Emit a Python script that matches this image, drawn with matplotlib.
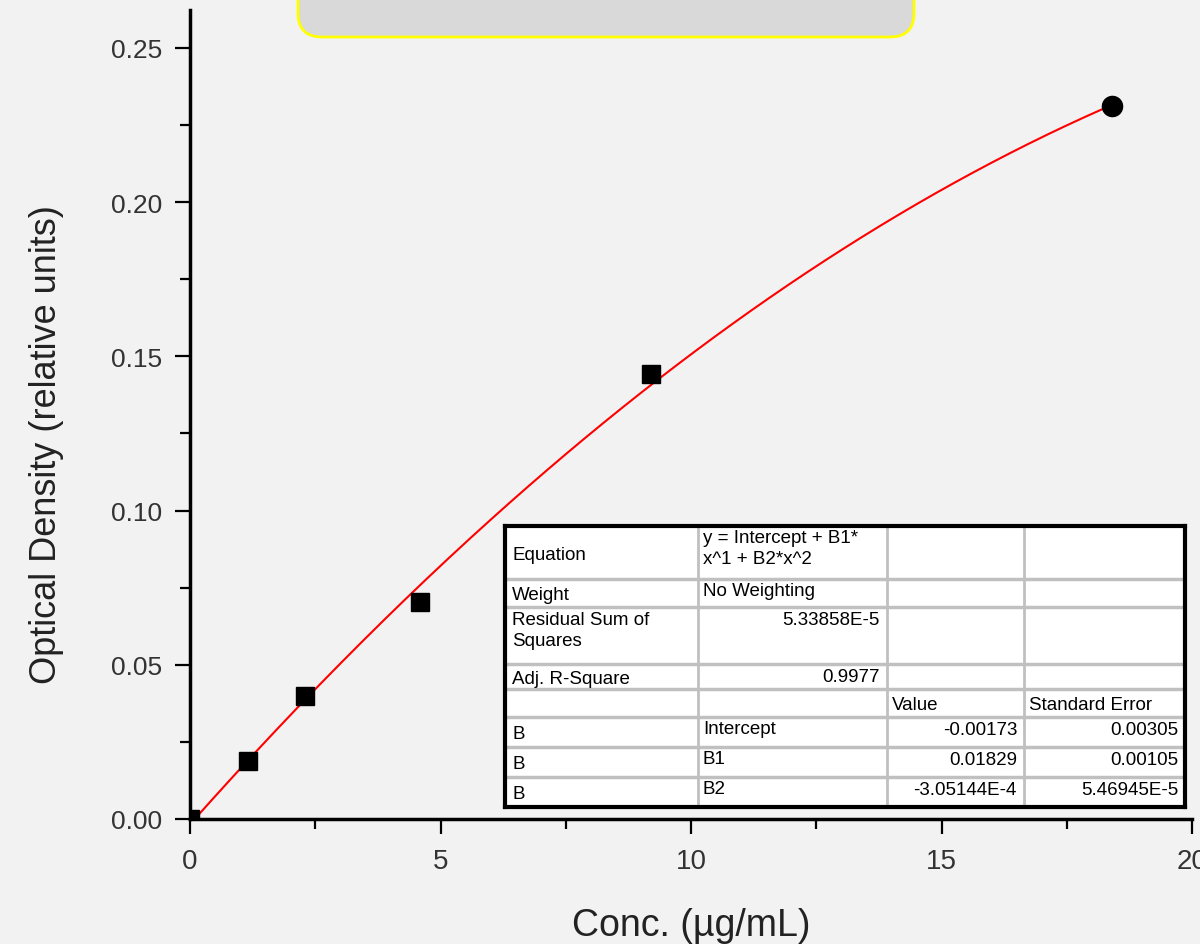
import numpy as np
import matplotlib.pyplot as plt
from matplotlib.patches import FancyBboxPatch
from matplotlib.transforms import IdentityTransform
from matplotlib.ticker import MultipleLocator

# ---------------------------------------------------------
# Data
# ---------------------------------------------------------
conc = [0.0, 1.15, 2.3, 4.6, 9.2]
od = [0.0, 0.0188, 0.0399, 0.0704, 0.1443]
conc_top = [18.4]
od_top = [0.2312]

# fit parameters as printed in the table
b0 = -0.00173
b1 = 0.01829
b2 = -3.05144e-4

table_rows = [
    ["Equation", "y = Intercept + B1*\nx^1 + B2*x^2", "", ""],
    ["Weight", "No Weighting", "", ""],
    ["Residual Sum of\nSquares", "5.33858E-5", "", ""],
    ["Adj. R-Square", "0.9977", "", ""],
    ["", "", "Value", "Standard Error"],
    ["B", "Intercept", "-0.00173", "0.00305"],
    ["B", "B1", "0.01829", "0.00105"],
    ["B", "B2", "-3.05144E-4", "5.46945E-5"],
]

bg = "#f2f2f2"
plt.rcParams['font.family'] = ['Liberation Sans', 'DejaVu Sans']

fig = plt.figure(figsize=(12, 9.45), dpi=100, facecolor=bg)
ax = fig.add_axes([190 / 1200, 1 - 820 / 945, 1002 / 1200, 809 / 945])
ax.set_facecolor(bg)

# fitted curve
xf = np.linspace(0, conc_top[0], 300)
ax.plot(xf, b0 + b1 * xf + b2 * xf ** 2, color="red", lw=1.5, zorder=3)

ax.plot(conc, od, "s", color="black", ms=13.5, zorder=4, clip_on=True)
ax.plot(conc_top, od_top, "o", color="black", ms=14.5, zorder=4)

ax.set_xlim(0, 20)
ax.set_ylim(0, 0.2623)
ax.xaxis.set_major_locator(MultipleLocator(5))
ax.xaxis.set_minor_locator(MultipleLocator(2.5))
ax.yaxis.set_major_locator(MultipleLocator(0.05))
ax.yaxis.set_minor_locator(MultipleLocator(0.025))
ax.yaxis.set_major_formatter(plt.FormatStrFormatter("%.2f"))

for s in ["top", "right"]:
    ax.spines[s].set_visible(False)
for s in ["left", "bottom"]:
    ax.spines[s].set_linewidth(2.5)
ax.tick_params(which="major", direction="out", length=11, width=1.6,
               colors="black", labelcolor="#333333")
ax.tick_params(which="minor", direction="out", length=7, width=1.6)
ax.tick_params(axis="y", labelsize=19, pad=9)
ax.tick_params(axis="x", labelsize=20, pad=10)

ax.set_xlabel("Conc. (µg/mL)", fontsize=27, color="#222222", labelpad=24)
ax.set_ylabel("Optical Density (relative units)", fontsize=26, color="#222222")
ax.yaxis.set_label_coords(-0.126, 0.4635)

# partially visible legend box at the top
legend_box = FancyBboxPatch((298, 945 - 38), 616, 90,
                            boxstyle="round,pad=0,rounding_size=24",
                            transform=IdentityTransform(), facecolor="#d9d9d9",
                            edgecolor="#ffff00", lw=2, clip_on=False)
fig.patches.append(legend_box)

# ---------------------------------------------------------
# Fit results table
# ---------------------------------------------------------
tx0, ty0, tw, th = 505, 527, 680, 281
tab = fig.add_axes([tx0 / 1200, 1 - (ty0 + th) / 945, tw / 1200, th / 945])
tab.set_xlim(0, tw)
tab.set_ylim(th, 0)
tab.set_facecolor("white")
tab.set_xticks([])
tab.set_yticks([])
for sp in tab.spines.values():
    sp.set_linewidth(3)
    sp.set_color("black")

col_edges = [0, 193, 382, 519, 680]
row_edges = [0, 53, 81, 138, 163, 191, 221, 251, 281]
for c in col_edges[1:-1]:
    tab.plot([c, c], [0, th], color="#c0c0c0", lw=2)
for r in row_edges[1:-1]:
    tab.plot([0, tw], [r, r], color="#c0c0c0", lw=2.5)

fs = 13.5
for i, row in enumerate(table_rows):
    top, bot = row_edges[i], row_edges[i + 1]
    for j, txt in enumerate(row):
        if not txt:
            continue
        numeric = txt[0].isdigit() or (txt[0] == "-" and len(txt) > 1)
        if j == 0 and i != 2:
            tab.text(col_edges[j] + 7, (top + bot) / 2 + 2, txt, fontsize=fs,
                     ha="left", va="center")
        elif j == 0:
            tab.text(col_edges[j] + 7, top + 4, txt, fontsize=fs, ha="left",
                     va="top", linespacing=1.3)
        elif numeric:
            tab.text(col_edges[j + 1] - 7, top + 4, txt, fontsize=fs,
                     ha="right", va="top")
        elif i == 4:
            tab.text(col_edges[j] + 5, (top + bot) / 2 + 2, txt, fontsize=fs,
                     ha="left", va="center")
        else:
            tab.text(col_edges[j] + 5, top + 3, txt, fontsize=fs, ha="left",
                     va="top", linespacing=1.3)

fig.savefig("out.png", dpi=100, facecolor=bg)
